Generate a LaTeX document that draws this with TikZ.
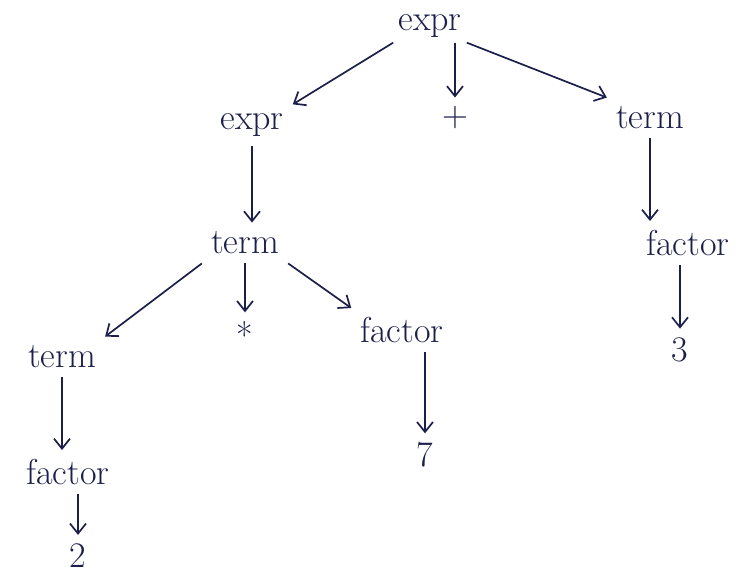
\documentclass[tikz,border=0pt]{standalone}
\usetikzlibrary{arrows.meta}
\definecolor{ink}{HTML}{1C1F4A}
\begin{document}
\begin{tikzpicture}[x=1pt,y=-1pt,
  lab/.style={text=ink,font=\fontsize{36}{40}\selectfont,inner sep=9pt},
  edge/.style={draw=ink,line width=1.7pt,-{Straight Barb[length=10pt,width=16pt]}}]
\useasboundingbox (0,0) rectangle (756,579);
\node[lab,inner sep=5pt] (root) at (430,26) {expr};
\node[lab] (e2) at (252,125) {expr};
\node[lab] (plus) at (455,118) {+};
\node[lab] (t1) at (650,118) {term};
\node[lab] (t2) at (245,243) {term};
\node[lab] (f1) at (688,243) {factor};
\node[lab] (n3) at (680,350) {3};
\node[lab] (t3) at (62,357) {term};
\node[lab] (star) at (245,335) {*};
\node[lab] (f2) at (402,330) {factor};
\node[lab] (n7) at (425,455) {7};
\node[lab] (f3) at (68,472) {factor};
\node[lab] (n2) at (78,556) {2};
\draw[edge] (root.south west) -- (e2.north east);
\draw[edge] (root.south -| plus.north) -- (plus.north);
\draw[edge] (root.south east) -- (t1.north west);
\draw[edge] (e2.south) -- (e2.south |- t2.north);
\draw[edge] (t1.south) -- (t1.south |- f1.north);
\draw[edge] (n3.north |- f1.south) -- (n3.north);
\draw[edge] (t2.south west) -- (t3.north east);
\draw[edge] (star.north |- t2.south) -- (star.north);
\draw[edge] (t2.south east) -- (f2.north west);
\draw[edge] (n7.north |- f2.south) -- (n7.north);
\draw[edge] (t3.south) -- (t3.south |- f3.north);
\draw[edge] (n2.north |- f3.south) -- (n2.north);
\end{tikzpicture}
\end{document}
